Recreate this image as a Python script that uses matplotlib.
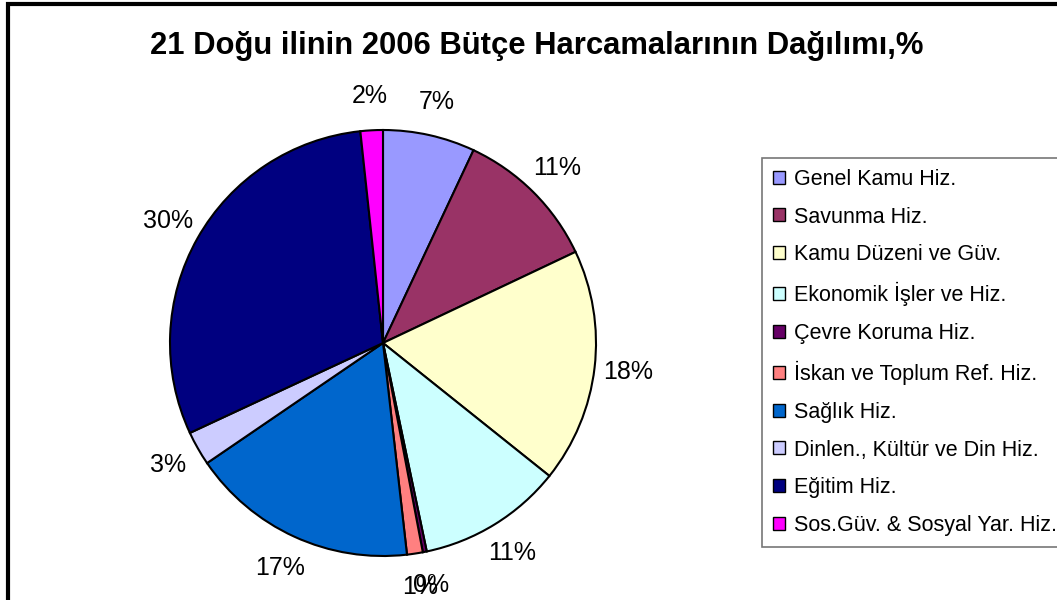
import matplotlib
matplotlib.use("Agg")
import matplotlib.pyplot as plt
from matplotlib.patches import Rectangle, Patch

plt.rcParams['font.family'] = ['Liberation Sans', 'DejaVu Sans']

title = "21 Doğu ilinin 2006 Bütçe Harcamalarının Dağılımı,%"
categories = ["Genel Kamu Hiz.", "Savunma Hiz.", "Kamu Düzeni ve Güv.",
              "Ekonomik İşler ve Hiz.", "Çevre Koruma Hiz.", "İskan ve Toplum Ref. Hiz.",
              "Sağlık Hiz.", "Dinlen., Kültür ve Din Hiz.", "Eğitim Hiz.",
              "Sos.Güv. & Sosyal Yar. Hiz."]
values = [7.0, 11.0, 17.8, 11.0, 0.3, 1.2, 17.3, 2.6, 30.3, 1.7]
colors = ["#9999FF", "#993366", "#FFFFCC", "#CCFFFF", "#660066", "#FF8080",
          "#0066CC", "#CCCCFF", "#000080", "#FF00FF"]

W, H = 1057, 600
fig = plt.figure(figsize=(W / 100, H / 100), dpi=100)
ax = fig.add_axes([0, 0, 1, 1])

wedges, texts = ax.pie(values, colors=colors, startangle=90, counterclock=False,
                       center=(383, H - 343), radius=213, labeldistance=1.16,
                       labels=[f"{round(v)}%" for v in values],
                       wedgeprops=dict(edgecolor='black', linewidth=1.5),
                       textprops=dict(fontsize=18, color='black'), frame=True)
for t in texts:
    t.set_ha('center')
    t.set_va('center')
ax.set_xlim(0, W)
ax.set_ylim(0, H)
ax.axis('off')

# outer chart frame
ax.add_patch(Rectangle((8, -10), W + 20, H - 4 + 10, fill=False,
                       edgecolor='black', linewidth=3, clip_on=False))

fig.text(537 / W, 1 - 46 / H, title, ha='center', va='center',
         fontsize=22.3, fontweight='bold')

handles = [Patch(facecolor=c, edgecolor='black', linewidth=1) for c in colors]
leg = ax.legend(handles, categories, loc='upper left',
                bbox_to_anchor=(762 / W, 1 - 158 / H), bbox_transform=fig.transFigure,
                fontsize=15.5, frameon=True, fancybox=False, edgecolor='#555555',
                handlelength=0.55, handleheight=0.55, handletextpad=0.45,
                labelspacing=0.78, borderpad=0.5, borderaxespad=0)
leg.get_frame().set_linewidth(1.2)

fig.savefig("out.png", dpi=100, facecolor='white')
